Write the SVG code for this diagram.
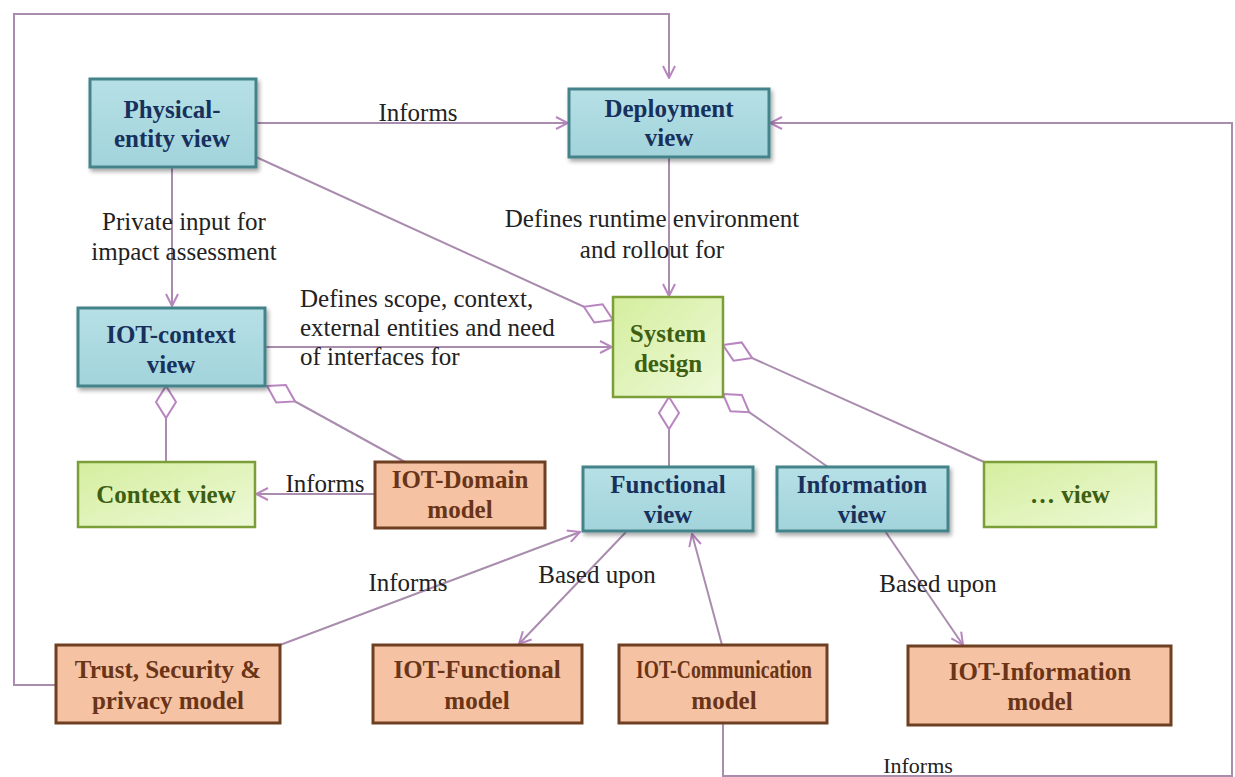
<svg xmlns="http://www.w3.org/2000/svg" width="1235" height="777" viewBox="0 0 1235 777">
<defs>
  <linearGradient id="gBlue" x1="0" y1="0" x2="0" y2="1">
    <stop offset="0" stop-color="#b6e0e6"/>
    <stop offset="1" stop-color="#a2d3db"/>
  </linearGradient>
  <linearGradient id="gGreen" x1="0" y1="0" x2="1" y2="1">
    <stop offset="0" stop-color="#d4ee9e"/>
    <stop offset="1" stop-color="#eef9d8"/>
  </linearGradient>
  <filter id="shadow" x="-10%" y="-10%" width="130%" height="140%">
    <feDropShadow dx="2" dy="3" stdDeviation="2" flood-color="#000" flood-opacity="0.35"/>
  </filter>
  <marker id="arrow" markerUnits="userSpaceOnUse" viewBox="0 0 14 14" refX="13" refY="7" markerWidth="14" markerHeight="14" orient="auto">
    <path d="M1,1 L13,7 L1,13" fill="none" stroke="#b985c0" stroke-width="2"/>
  </marker>
  <marker id="diamond" markerUnits="userSpaceOnUse" viewBox="-1 -1 36 24" refX="1" refY="11" markerWidth="36" markerHeight="24" orient="auto">
    <path d="M1,11 L17,1 L33,11 L17,21 Z" fill="#fff" stroke="#b985c0" stroke-width="2"/>
  </marker>
  <style>
    .conn { fill: none; stroke: #a98cae; stroke-width: 2; }
    .arr { marker-end: url(#arrow); }
    .dia { marker-start: url(#diamond); }
    .lbl { font-family: "Liberation Serif", "Times New Roman", serif; font-size: 25px; fill: #222; }
    .nt { font-family: "Liberation Serif", "Times New Roman", serif; font-size: 25px; font-weight: bold; text-anchor: middle; }
    .blue rect { fill: url(#gBlue); stroke: #44838a; stroke-width: 3; filter: url(#shadow); }
    .blue text { fill: #17305c; }
    .green rect { fill: url(#gGreen); stroke: #7c9e38; stroke-width: 2.5; }
    .green text { fill: #3e5e12; }
    .brown rect { fill: #f5c3a3; stroke: #6f3f22; stroke-width: 3; }
    .brown text { fill: #6a3418; }
  </style>
</defs>
<rect width="1235" height="777" fill="#fff"/>

<g id="connectors">
  <path class="conn arr" d="M56,685 H14 V14 H669 V78"/>
  <path class="conn arr" d="M256,123 H568"/>
  <path class="conn arr" d="M723,723 V776 H1232 V123 H770"/>
  <path class="conn arr" d="M172,167 V306"/>
  <path class="conn arr" d="M669,157 V296"/>
  <path class="conn arr" d="M265,347 H612"/>
  <path class="conn dia" d="M613,320 L256,157"/>
  <path class="conn arr" d="M375,494 H256"/>
  <path class="conn dia" d="M166,386 V462"/>
  <path class="conn dia" d="M267,386 L405,462"/>
  <path class="conn dia" d="M669,397 V467"/>
  <path class="conn dia" d="M723,345 L984,462"/>
  <path class="conn dia" d="M723,394 L828,467"/>
  <path class="conn arr" d="M280,645 L580,532"/>
  <path class="conn arr" d="M626,532 L519,644"/>
  <path class="conn arr" d="M722,645 L692,534"/>
  <path class="conn arr" d="M885,531 L963,645"/>

  <text class="lbl" x="418" y="121" text-anchor="middle">Informs</text>
  <text class="lbl" x="184" y="230" text-anchor="middle">Private input for</text>
  <text class="lbl" x="184" y="260" text-anchor="middle">impact assessment</text>
  <text class="lbl" x="652" y="227" text-anchor="middle">Defines runtime environment</text>
  <text class="lbl" x="652" y="258" text-anchor="middle">and rollout for</text>
  <text class="lbl" x="300" y="307">Defines scope, context,</text>
  <text class="lbl" x="300" y="336">external entities and need</text>
  <text class="lbl" x="300" y="365">of interfaces for</text>
  <text class="lbl" x="325" y="492" text-anchor="middle">Informs</text>
  <text class="lbl" x="408" y="591" text-anchor="middle">Informs</text>
  <text class="lbl" x="597" y="583" text-anchor="middle">Based upon</text>
  <text class="lbl" x="938" y="592" text-anchor="middle">Based upon</text>
  <text class="lbl" x="918" y="773" text-anchor="middle" style="font-size:22px">Informs</text>
</g>

<g id="physical-entity-view" class="blue">
  <rect x="90" y="79" width="166" height="88"/>
  <text class="nt" x="172" y="118">Physical-</text>
  <text class="nt" x="172" y="147">entity view</text>
</g>
<g id="deployment-view" class="blue">
  <rect x="569" y="89" width="200" height="68"/>
  <text class="nt" x="669" y="117">Deployment</text>
  <text class="nt" x="669" y="146">view</text>
</g>
<g id="iot-context-view" class="blue">
  <rect x="78" y="308" width="187" height="78"/>
  <text class="nt" x="171" y="343">IOT-context</text>
  <text class="nt" x="171" y="373">view</text>
</g>
<g id="system-design" class="green">
  <rect x="613" y="297" width="110" height="100"/>
  <text class="nt" x="668" y="342">System</text>
  <text class="nt" x="668" y="372">design</text>
</g>
<g id="context-view" class="green">
  <rect x="78" y="462" width="177" height="65"/>
  <text class="nt" x="166" y="503">Context view</text>
</g>
<g id="iot-domain-model" class="brown">
  <rect x="375" y="462" width="170" height="66"/>
  <text class="nt" x="460" y="488">IOT-Domain</text>
  <text class="nt" x="460" y="518">model</text>
</g>
<g id="functional-view" class="blue">
  <rect x="583" y="467" width="170" height="64"/>
  <text class="nt" x="668" y="493">Functional</text>
  <text class="nt" x="668" y="523">view</text>
</g>
<g id="information-view" class="blue">
  <rect x="777" y="467" width="171" height="64"/>
  <text class="nt" x="862" y="493">Information</text>
  <text class="nt" x="862" y="523">view</text>
</g>
<g id="other-view" class="green">
  <rect x="984" y="462" width="172" height="65"/>
  <text class="nt" x="1070" y="503">… view</text>
</g>
<g id="trust-security-privacy-model" class="brown">
  <rect x="56" y="645" width="224" height="78"/>
  <text class="nt" x="168" y="678">Trust, Security &amp;</text>
  <text class="nt" x="168" y="709">privacy model</text>
</g>
<g id="iot-functional-model" class="brown">
  <rect x="373" y="645" width="209" height="78"/>
  <text class="nt" x="477" y="678">IOT-Functional</text>
  <text class="nt" x="477" y="709">model</text>
</g>
<g id="iot-communication-model" class="brown">
  <rect x="619" y="645" width="208" height="78"/>
  <text class="nt" x="724" y="678" textLength="176" lengthAdjust="spacingAndGlyphs">IOT-Communication</text>
  <text class="nt" x="724" y="709">model</text>
</g>
<g id="iot-information-model" class="brown">
  <rect x="908" y="646" width="263" height="79"/>
  <text class="nt" x="1040" y="680">IOT-Information</text>
  <text class="nt" x="1040" y="710">model</text>
</g>
</svg>
